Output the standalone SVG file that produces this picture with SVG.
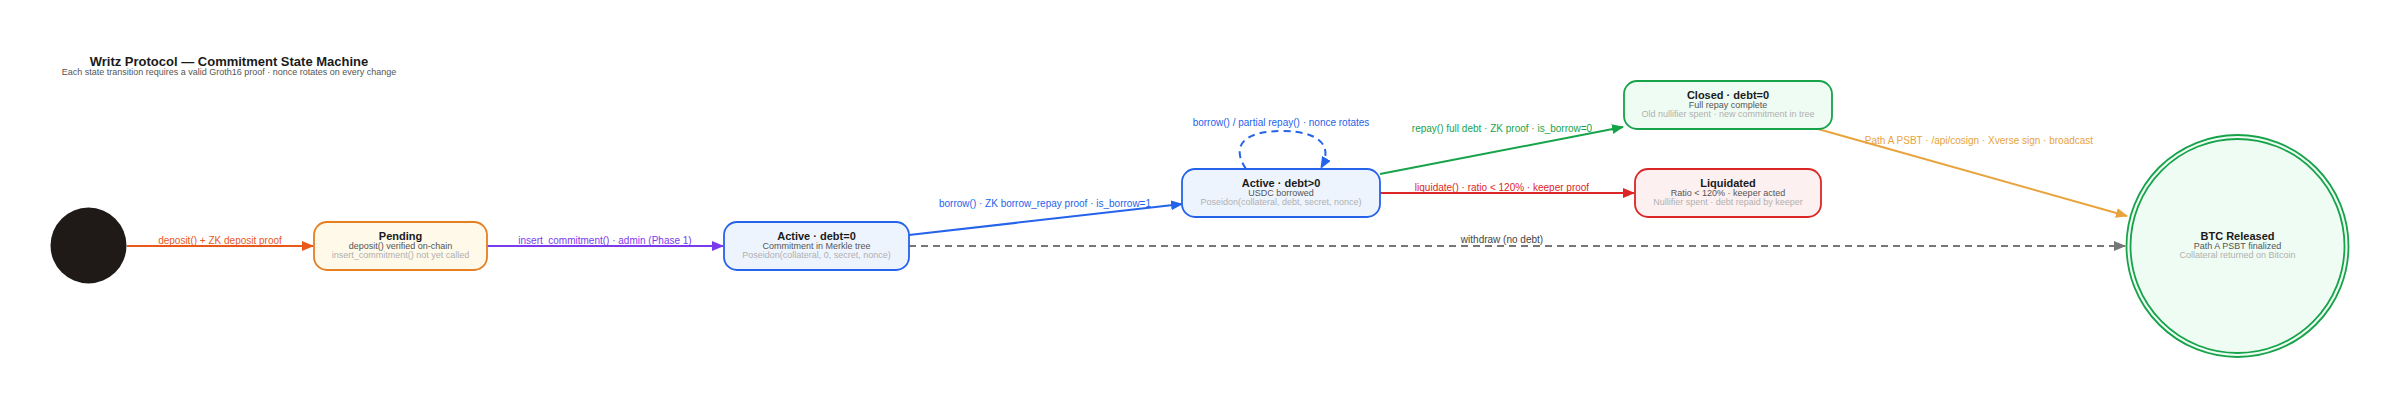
<svg xmlns="http://www.w3.org/2000/svg" width="2400" height="408" viewBox="0 0 2400 408">
<style>
text{font-family:"Liberation Sans",Arial,sans-serif;}
.t{font-size:11px;font-weight:bold;fill:#1a1a1a;text-anchor:middle;}
.s{font-size:9px;fill:#555;text-anchor:middle;}
.d{font-size:9px;fill:#b0b0b0;text-anchor:middle;}
.lbl{font-size:10px;text-anchor:middle;}
.e{fill:none;stroke-width:2;}
.box{stroke-width:1.8;}
</style>
<defs>
<marker id="aOr" markerWidth="12" markerHeight="10" refX="11" refY="5" orient="auto" markerUnits="userSpaceOnUse"><path d="M0,0 L12,5 L0,10 z" fill="#e8591a"/></marker>
<marker id="aPu" markerWidth="12" markerHeight="10" refX="11" refY="5" orient="auto" markerUnits="userSpaceOnUse"><path d="M0,0 L12,5 L0,10 z" fill="#7c3aed"/></marker>
<marker id="aBl" markerWidth="12" markerHeight="10" refX="11" refY="5" orient="auto" markerUnits="userSpaceOnUse"><path d="M0,0 L12,5 L0,10 z" fill="#2563eb"/></marker>
<marker id="aGr" markerWidth="12" markerHeight="10" refX="11" refY="5" orient="auto" markerUnits="userSpaceOnUse"><path d="M0,0 L12,5 L0,10 z" fill="#16a34a"/></marker>
<marker id="aRd" markerWidth="12" markerHeight="10" refX="11" refY="5" orient="auto" markerUnits="userSpaceOnUse"><path d="M0,0 L12,5 L0,10 z" fill="#dc2626"/></marker>
<marker id="aGo" markerWidth="12" markerHeight="10" refX="11" refY="5" orient="auto" markerUnits="userSpaceOnUse"><path d="M0,0 L12,5 L0,10 z" fill="#e8a33c"/></marker>
<marker id="aGy" markerWidth="12" markerHeight="10" refX="11" refY="5" orient="auto" markerUnits="userSpaceOnUse"><path d="M0,0 L12,5 L0,10 z" fill="#777"/></marker>
</defs>
<rect width="2400" height="408" fill="#ffffff"/>
<g id="title">
<text x="229" y="66" style="font-size:13px;font-weight:bold;fill:#1a1a1a;text-anchor:middle">Writz Protocol — Commitment State Machine</text>
<text x="229" y="75" style="font-size:9px;fill:#555;text-anchor:middle">Each state transition requires a valid Groth16 proof · nonce rotates on every change</text>
</g>
<g id="connectors">
<line class="e" x1="127" y1="246" x2="313" y2="246" stroke="#e8591a" marker-end="url(#aOr)"/>
<text class="lbl" x="220" y="244" fill="#e8591a">deposit() + ZK deposit proof</text>
<line class="e" x1="487" y1="246" x2="723" y2="246" stroke="#7c3aed" marker-end="url(#aPu)"/>
<text class="lbl" x="605" y="244" fill="#7c3aed">insert_commitment() · admin (Phase 1)</text>
<line class="e" x1="909" y1="235" x2="1182" y2="204" stroke="#2563eb" marker-end="url(#aBl)"/>
<text class="lbl" x="1045" y="207" fill="#2563eb">borrow() · ZK borrow_repay proof · is_borrow=1</text>
<path class="e" d="M1246,169 C1230,145 1245,131 1282,131 C1318,131 1334,145 1321,168" stroke="#2563eb" stroke-dasharray="7,5" marker-end="url(#aBl)"/>
<text class="lbl" x="1281" y="126" fill="#2563eb">borrow() / partial repay() · nonce rotates</text>
<line class="e" x1="1380" y1="174" x2="1623" y2="127" stroke="#16a34a" marker-end="url(#aGr)"/>
<text class="lbl" x="1502" y="132" fill="#16a34a">repay() full debt · ZK proof · is_borrow=0</text>
<line class="e" x1="1380" y1="193" x2="1634" y2="193" stroke="#dc2626" marker-end="url(#aRd)"/>
<text class="lbl" x="1502" y="191" fill="#dc2626">liquidate() · ratio &lt; 120% · keeper proof</text>
<line class="e" x1="1818" y1="129" x2="2127" y2="216" stroke="#e8a33c" marker-end="url(#aGo)"/>
<text class="lbl" x="1979" y="144" fill="#e8a33c">Path A PSBT · /api/cosign · Xverse sign · broadcast</text>
<line class="e" x1="909" y1="246" x2="2125" y2="246" stroke="#777" stroke-dasharray="7,5" marker-end="url(#aGy)"/>
<text class="lbl" x="1502" y="243" fill="#444">withdraw (no debt)</text>
</g>
<g id="start">
<circle cx="88.5" cy="245.5" r="38" fill="#1f1a17"/>
</g>
<g id="pending">
<rect class="box" x="314" y="222" width="173" height="48" rx="13" fill="#fef9e8" stroke="#e67e22"/>
<text class="t" x="400.5" y="240">Pending</text>
<text class="s" x="400.5" y="249">deposit() verified on-chain</text>
<text class="d" x="400.5" y="258">insert_commitment() not yet called</text>
</g>
<g id="active0">
<rect class="box" x="724" y="222" width="185" height="48" rx="13" fill="#eef4fe" stroke="#2563eb"/>
<text class="t" x="816.5" y="240">Active · debt=0</text>
<text class="s" x="816.5" y="249">Commitment in Merkle tree</text>
<text class="d" x="816.5" y="258">Poseidon(collateral, 0, secret, nonce)</text>
</g>
<g id="active1">
<rect class="box" x="1182" y="169" width="198" height="48" rx="13" fill="#eef4fe" stroke="#2563eb"/>
<text class="t" x="1281" y="187">Active · debt&gt;0</text>
<text class="s" x="1281" y="196">USDC borrowed</text>
<text class="d" x="1281" y="205">Poseidon(collateral, debt, secret, nonce)</text>
</g>
<g id="closed">
<rect class="box" x="1624" y="81" width="208" height="48" rx="13" fill="#effcf3" stroke="#16a34a"/>
<text class="t" x="1728" y="99">Closed · debt=0</text>
<text class="s" x="1728" y="108">Full repay complete</text>
<text class="d" x="1728" y="117">Old nullifier spent · new commitment in tree</text>
</g>
<g id="liquidated">
<rect class="box" x="1635" y="169" width="186" height="48" rx="13" fill="#fdf0f0" stroke="#dc2626"/>
<text class="t" x="1728" y="187">Liquidated</text>
<text class="s" x="1728" y="196">Ratio &lt; 120% · keeper acted</text>
<text class="d" x="1728" y="205">Nullifier spent · debt repaid by keeper</text>
</g>
<g id="released">
<circle cx="2237.5" cy="246" r="111" fill="#effcf3" stroke="#16a34a" stroke-width="1.8"/>
<circle cx="2237.5" cy="246" r="107" fill="none" stroke="#16a34a" stroke-width="1.8"/>
<text class="t" x="2237.5" y="240">BTC Released</text>
<text class="s" x="2237.5" y="249">Path A PSBT finalized</text>
<text class="d" x="2237.5" y="258">Collateral returned on Bitcoin</text>
</g>
</svg>
